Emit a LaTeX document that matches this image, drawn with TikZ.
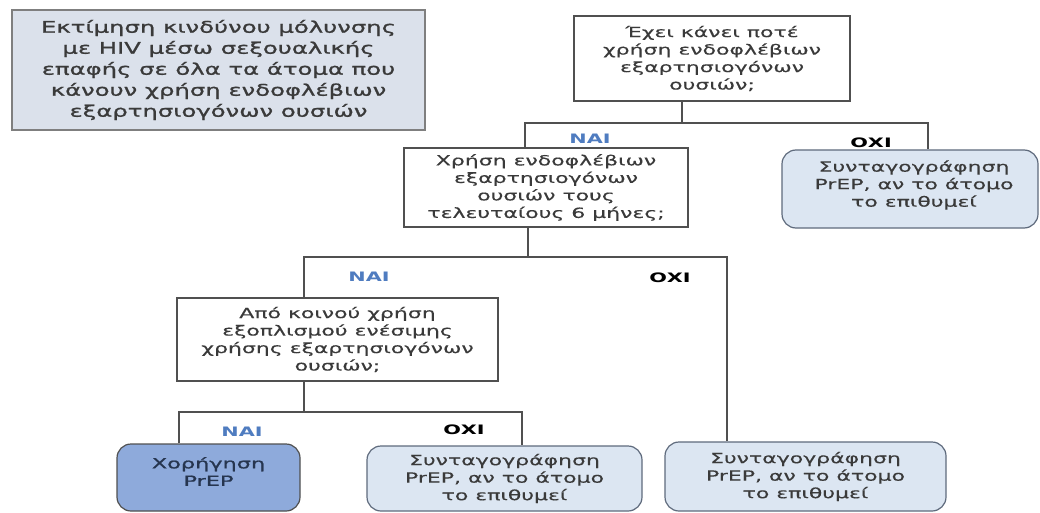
\documentclass[tikz,border=0pt]{standalone}
\usepackage{fontspec}
\setmainfont{DejaVu Sans}[FakeStretch=1.57,FakeBold=0.3]
\newfontfamily\introfont{DejaVu Sans}[FakeStretch=1.52,FakeBold=1.2]
\newfontfamily\boldbody{DejaVu Sans}[FakeStretch=1.6,FakeBold=1.2]
\newfontfamily\labfont{DejaVu Sans}[FakeStretch=1.6]
\definecolor{linegray}{HTML}{505050}
\definecolor{introfill}{HTML}{DBE1EB}
\definecolor{introborder}{HTML}{7F7F7F}
\definecolor{lightblue}{HTML}{DCE6F2}
\definecolor{rborder}{HTML}{5F6B7D}
\definecolor{darkblue}{HTML}{8EAADB}
\definecolor{textgray}{HTML}{3A3A3A}
\definecolor{navytext}{HTML}{26354F}
\definecolor{yesblue}{HTML}{4F7CC0}
\begin{document}
\begin{tikzpicture}[x=1pt,y=-1pt,
  txt/.style={text=textgray, align=center, font=\fontsize{14}{17.5}\selectfont},
  qbox/.style={txt, draw=linegray, line width=1.2pt, fill=white, inner sep=0pt},
  rbox/.style={txt, draw=rborder, line width=1.2pt, fill=lightblue, rounded corners=14pt, inner sep=0pt},
  yeslab/.style={text=yesblue, font=\labfont\bfseries\fontsize{13}{15}\selectfont, inner sep=0pt},
  nolab/.style={text=black, font=\labfont\bfseries\fontsize{13}{15}\selectfont, inner sep=0pt},
  conn/.style={draw=linegray, line width=1.5pt}]
\useasboundingbox (0,0) rectangle (1040,513);
\fill[white] (0,0) rectangle (1040,513);

% boxes
\node[draw=introborder, line width=1.5pt, fill=introfill, text=textgray, align=center,
      font=\introfont\fontsize{16}{21}\selectfont,
      minimum width=413pt, minimum height=120pt, inner sep=0pt] (A) at (218.5,70)
  {Εκτίμηση κινδύνου μόλυνσης\\με HIV μέσω σεξουαλικής\\επαφής σε όλα τα άτομα που\\κάνουν χρήση ενδοφλέβιων\\εξαρτησιογόνων ουσιών};

\node[qbox, minimum width=276pt, minimum height=85pt] (B) at (712,58.5)
  {Έχει κάνει ποτέ\\χρήση ενδοφλέβιων\\εξαρτησιογόνων\\ουσιών;};
\node[qbox, minimum width=284pt, minimum height=79pt] (C) at (546,187.5)
  {Χρήση ενδοφλέβιων\\εξαρτησιογόνων\\ουσιών τους\\τελευταίους 6 μήνες;};
\node[rbox, minimum width=256pt, minimum height=78pt] (D) at (910,189) {};
\node[txt] (Dt) at (914,185) {Συνταγογράφηση\\PrEP, αν το άτομο\\το επιθυμεί};
\node[qbox, minimum width=321pt, minimum height=83pt] (E) at (337.5,339.5)
  {Από κοινού χρήση\\εξοπλισμού ενέσιμης\\χρήσης εξαρτησιογόνων\\ουσιών;};
\node[rbox, fill=darkblue, draw=linegray, minimum width=183pt, minimum height=67pt] (F) at (208.5,477.5) {};
\node[txt, text=navytext, font=\boldbody\fontsize{14}{17.5}\selectfont, inner sep=0pt] (Ft) at (208.5,471.5) {Χορήγηση\\PrEP};
\node[rbox, minimum width=275pt, minimum height=65pt] (G) at (504.5,478.5)
  {Συνταγογράφηση\\PrEP, αν το άτομο\\το επιθυμεί};
\node[rbox, minimum width=281pt, minimum height=69pt] (H) at (805.5,476.5)
  {Συνταγογράφηση\\PrEP, αν το άτομο\\το επιθυμεί};

% junctions
\coordinate (j1) at (682,123); \coordinate (j1l) at (525,123); \coordinate (j1r) at (928,123);
\coordinate (j2) at (528,257); \coordinate (j2l) at (304,257); \coordinate (j2r) at (727,257);
\coordinate (j3) at (304,412); \coordinate (j3l) at (179,412); \coordinate (j3r) at (522,412);

\draw[conn] (j1 |- B.south) -- (j1);
\draw[conn] (j1l |- C.north) -- (j1l) -- (j1r) -- (j1r |- D.north);
\draw[conn] (j2 |- C.south) -- (j2);
\draw[conn] (j2l |- E.north) -- (j2l) -- (j2r) -- (j2r |- H.north);
\draw[conn] (j3 |- E.south) -- (j3);
\draw[conn] (j3l |- F.north) -- (j3l) -- (j3r) -- (j3r |- G.north);

% labels
\node[yeslab] (y1) at (590,139) {ΝΑΙ};
\node[nolab]  (n1) at (871,143) {ΟΧΙ};
\node[yeslab] (y2) at (369,277) {ΝΑΙ};
\node[nolab]  (n2) at (670,278) {ΟΧΙ};
\node[yeslab] (y3) at (242,432) {ΝΑΙ};
\node[nolab]  (n3) at (464,430) {ΟΧΙ};
\end{tikzpicture}
\end{document}
